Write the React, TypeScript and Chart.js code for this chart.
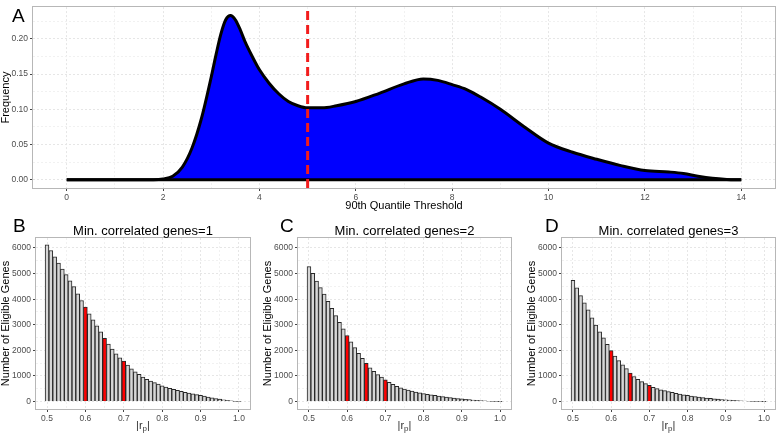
import React, { useEffect, useRef } from 'react';
import { Chart, registerables } from 'chart.js';

Chart.register(...registerables);

const FONT = '"Liberation Sans", Arial, Helvetica, sans-serif';

// ---------- Panel A: density of 90th quantile threshold ----------
const densityX = [0, 1, 1.8, 2.0, 2.2, 2.4, 2.6, 2.8, 3.0, 3.1, 3.2, 3.3, 3.4, 3.5, 3.6, 3.7, 3.85, 4.0, 4.2, 4.4, 4.6, 4.8, 5.0, 5.3, 5.6, 6.0, 6.5, 7.0, 7.4, 7.7, 8.0, 8.3, 8.6, 9.0, 9.5, 10.0, 10.5, 11.0, 11.5, 12.0, 12.5, 12.8, 13.1, 13.4, 13.7, 14];
const densityY = [0, 0, 0, 0.001, 0.005, 0.018, 0.045, 0.088, 0.146, 0.178, 0.207, 0.227, 0.233, 0.227, 0.213, 0.196, 0.175, 0.156, 0.137, 0.122, 0.111, 0.105, 0.102, 0.102, 0.105, 0.111, 0.123, 0.136, 0.143, 0.141, 0.135, 0.128, 0.117, 0.1, 0.075, 0.052, 0.039, 0.029, 0.02, 0.013, 0.011, 0.009, 0.005, 0.002, 0.0005, 0];
const thresholdX = 5;
const aTicksX = [0, 2, 4, 6, 8, 10, 12, 14];
const aMinorX = [1, 3, 5, 7, 9, 11, 13];
const aTicksY = [0, 0.05, 0.1, 0.15, 0.2];
const aMinorY = [0.025, 0.075, 0.125, 0.175, 0.225];
const aRangeX = [-0.7, 14.7];
const aRangeY = [-0.0117, 0.245];

// ---------- Panels B-D: eligible genes vs |r_p| ----------
const rBins = [0.5, 0.51, 0.52, 0.53, 0.54, 0.55, 0.56, 0.57, 0.58, 0.59, 0.6, 0.61, 0.62, 0.63, 0.64, 0.65, 0.66, 0.67, 0.68, 0.69, 0.7, 0.71, 0.72, 0.73, 0.74, 0.75, 0.76, 0.77, 0.78, 0.79, 0.8, 0.81, 0.82, 0.83, 0.84, 0.85, 0.86, 0.87, 0.88, 0.89, 0.9, 0.91, 0.92, 0.93, 0.94, 0.95, 0.96, 0.97, 0.98, 0.99, 1.0];
const countsMin1 = [6120, 5900, 5650, 5410, 5180, 4960, 4720, 4490, 4210, 3950, 3690, 3430, 3190, 2960, 2720, 2470, 2250, 2050, 1870, 1710, 1580, 1430, 1280, 1160, 1060, 960, 870, 800, 740, 680, 620, 570, 520, 480, 440, 400, 360, 330, 300, 270, 240, 210, 180, 150, 120, 95, 70, 45, 25, 10, 3];
const countsMin2 = [5270, 5010, 4710, 4450, 4200, 3920, 3640, 3360, 3100, 2840, 2580, 2330, 2110, 1880, 1690, 1490, 1320, 1180, 1050, 960, 850, 750, 670, 600, 540, 490, 450, 410, 370, 340, 310, 285, 260, 240, 215, 195, 175, 155, 140, 120, 105, 90, 75, 60, 48, 35, 25, 15, 8, 3, 1];
const countsMin3 = [4740, 4440, 4140, 3860, 3580, 3270, 2990, 2720, 2490, 2240, 1990, 1780, 1600, 1440, 1290, 1110, 980, 870, 780, 700, 630, 560, 505, 455, 425, 395, 360, 325, 295, 265, 240, 215, 195, 175, 155, 140, 125, 110, 95, 82, 70, 58, 48, 38, 30, 22, 15, 10, 5, 2, 1];
const highlightBins = [0.6, 0.65, 0.7];
const barTicksX = [0.5, 0.6, 0.7, 0.8, 0.9, 1.0];
const barMinorX = [0.55, 0.65, 0.75, 0.85, 0.95];
const barTicksY = [0, 1000, 2000, 3000, 4000, 5000, 6000];
const barMinorY = [500, 1500, 2500, 3500, 4500, 5500];
const barRangeX = [0.4713, 1.0287];
const barRangeY = [-290, 6390];
const panelLetters = ['B', 'C', 'D'];
const panelTitles = ['Min. correlated genes=1', 'Min. correlated genes=2', 'Min. correlated genes=3'];

type Box = { l: number; t: number; r: number; b: number };
type Deco = {
  letter: string;
  letterX: number;
  letterY: number;
  title?: string;
  titleY?: number;
  xTitle: string;
  xTitleY: number;
  xSub?: boolean;
  yTitle: string;
  yTitleX: number;
};

const GRID_MAJOR = '#e6e6e6';
const GRID_MINOR = '#f1f1f1';

function isIn(list: number[], v: number) {
  return list.some((x) => Math.abs(x - v) < 1e-9);
}

function decoPlugin(d: Deco) {
  return {
    id: 'deco',
    afterDraw(chart: any) {
      const ctx = chart.ctx as CanvasRenderingContext2D;
      const a = chart.chartArea;
      ctx.save();
      ctx.strokeStyle = '#b7b7b7';
      ctx.lineWidth = 1;
      ctx.strokeRect(Math.round(a.left) - 0.5, Math.round(a.top) - 0.5, Math.round(a.right - a.left) + 1, Math.round(a.bottom - a.top) + 1);
      ctx.fillStyle = '#000';
      ctx.font = `19px ${FONT}`;
      ctx.textAlign = 'left';
      ctx.textBaseline = 'alphabetic';
      ctx.fillText(d.letter, d.letterX, d.letterY);
      const cx = (a.left + a.right) / 2;
      const cy = (a.top + a.bottom) / 2;
      if (d.title) {
        ctx.font = `13px ${FONT}`;
        ctx.textAlign = 'center';
        ctx.textBaseline = 'middle';
        ctx.fillText(d.title, cx, d.titleY as number);
      }
      ctx.textBaseline = 'middle';
      if (d.xSub) {
        ctx.font = `11px ${FONT}`;
        const w1 = ctx.measureText('|r').width;
        const w3 = ctx.measureText('|').width;
        ctx.font = `8px ${FONT}`;
        const w2 = ctx.measureText('p').width;
        const x0 = cx - (w1 + w2 + w3) / 2;
        ctx.textAlign = 'left';
        ctx.fillStyle = '#333';
        ctx.font = `11px ${FONT}`;
        ctx.fillText('|r', x0, d.xTitleY);
        ctx.font = `8px ${FONT}`;
        ctx.fillText('p', x0 + w1, d.xTitleY + 3);
        ctx.font = `11px ${FONT}`;
        ctx.fillText('|', x0 + w1 + w2, d.xTitleY);
        ctx.fillStyle = '#000';
      } else {
        ctx.font = `11px ${FONT}`;
        ctx.textAlign = 'center';
        ctx.fillText(d.xTitle, cx, d.xTitleY);
      }
      ctx.translate(d.yTitleX, cy);
      ctx.rotate(-Math.PI / 2);
      ctx.font = `11px ${FONT}`;
      ctx.textAlign = 'center';
      ctx.textBaseline = 'middle';
      ctx.fillText(d.yTitle, 0, 0);
      ctx.restore();
    },
  };
}

function axisOptions(
  major: number[],
  minor: number[],
  range: number[],
  fmt: (v: number) => string,
  fit: (s: any) => void
) {
  const all = [...major, ...minor].sort((p, q) => p - q);
  return {
    type: 'linear',
    min: range[0],
    max: range[1],
    offset: false,
    afterBuildTicks: (s: any) => {
      s.ticks = all.map((v) => ({ value: v }));
    },
    afterFit: fit,
    border: { display: false, dash: [2, 2] },
    grid: {
      offset: false,
      drawTicks: true,
      tickLength: 3,
      lineWidth: 1,
      color: (c: any) => (isIn(major, c.tick?.value) ? GRID_MAJOR : GRID_MINOR),
      tickColor: (c: any) => (isIn(major, c.tick?.value) ? '#444' : 'rgba(0,0,0,0)'),
    },
    ticks: {
      autoSkip: false,
      maxRotation: 0,
      minRotation: 0,
      padding: 2,
      color: '#4d4d4d',
      font: { family: FONT, size: 8.5 },
      callback: (v: any) => (isIn(major, Number(v)) ? fmt(Number(v)) : ''),
    },
  };
}

function DensityPanel() {
  const ref = useRef<HTMLCanvasElement>(null);
  useEffect(() => {
    const W = 778;
    const H = 212;
    const area: Box = { l: 33, t: 2, r: 775, b: 188 };
    const chart = new Chart(ref.current as HTMLCanvasElement, {
      type: 'line',
      data: {
        datasets: [
          {
            data: [
              { x: thresholdX, y: aRangeY[0] },
              { x: thresholdX, y: aRangeY[1] },
            ],
            borderColor: '#f21c1c',
            borderWidth: 3,
            borderDash: [9, 5],
            pointRadius: 0,
            fill: false,
          },
          {
            data: [
              { x: densityX[0], y: 0 },
              { x: densityX[densityX.length - 1], y: 0 },
            ],
            borderColor: '#000',
            borderWidth: 3,
            pointRadius: 0,
            fill: false,
          },
          {
            data: densityX.map((x, i) => ({ x, y: densityY[i] })),
            borderColor: '#000',
            borderWidth: 3,
            backgroundColor: '#0000ff',
            fill: 'origin',
            pointRadius: 0,
            cubicInterpolationMode: 'monotone',
          },
        ],
      } as any,
      options: {
        animation: false,
        responsive: false,
        devicePixelRatio: 1,
        layout: { padding: { top: area.t, right: W - area.r, left: 0, bottom: 0 } },
        plugins: { legend: { display: false }, tooltip: { enabled: false } },
        scales: {
          x: axisOptions(aTicksX, aMinorX, aRangeX, (v) => String(v), (s: any) => {
            s.height = H - area.b;
          }),
          y: axisOptions(aTicksY, aMinorY, aRangeY, (v) => v.toFixed(2), (s: any) => {
            s.width = area.l;
          }),
        } as any,
      },
      plugins: [
        decoPlugin({
          letter: 'A',
          letterX: 12,
          letterY: 22,
          xTitle: '90th Quantile Threshold',
          xTitleY: 206,
          yTitle: 'Frequency',
          yTitleX: 6,
        }),
      ],
    });
    return () => chart.destroy();
  }, []);
  return (
    <canvas
      ref={ref}
      width={778}
      height={212}
      style={{ position: 'absolute', left: 0, top: 0, width: 778, height: 212 }}
    />
  );
}

type BarProps = {
  idx: number;
  counts: number[];
  canvasLeft: number;
  canvasWidth: number;
  panelLeft: number;
  panelRight: number;
  letterX: number;
};

function BarPanel(p: BarProps) {
  const ref = useRef<HTMLCanvasElement>(null);
  useEffect(() => {
    const W = p.canvasWidth;
    const H = 222;
    const top = 212;
    const area: Box = { l: p.panelLeft - p.canvasLeft, t: 238 - top, r: p.panelRight - p.canvasLeft, b: 409 - top };
    const chart = new Chart(ref.current as HTMLCanvasElement, {
      type: 'bar',
      data: {
        datasets: [
          {
            data: rBins.map((x, i) => ({ x, y: p.counts[i] })),
            backgroundColor: (c: any) => (isIn(highlightBins, rBins[c.dataIndex]) ? '#ff0000' : '#d6d6d6'),
            borderColor: '#262626',
            borderWidth: 1,
            barPercentage: 1,
            categoryPercentage: 1,
          },
        ],
      } as any,
      options: {
        animation: false,
        responsive: false,
        devicePixelRatio: 1,
        layout: { padding: { top: area.t, right: W - area.r, left: 0, bottom: 0 } },
        plugins: { legend: { display: false }, tooltip: { enabled: false } },
        scales: {
          x: axisOptions(barTicksX, barMinorX, barRangeX, (v) => v.toFixed(1), (s: any) => {
            s.height = H - area.b;
          }),
          y: axisOptions(barTicksY, barMinorY, barRangeY, (v) => String(v), (s: any) => {
            s.width = area.l;
          }),
        } as any,
      },
      plugins: [
        decoPlugin({
          letter: panelLetters[p.idx],
          letterX: p.letterX - p.canvasLeft,
          letterY: 232 - top,
          title: panelTitles[p.idx],
          titleY: 231 - top,
          xTitle: '|rp|',
          xTitleY: 426 - top,
          xSub: true,
          yTitle: 'Number of Eligible Genes',
          yTitleX: p.panelLeft - 30 - p.canvasLeft,
        }),
      ],
    });
    return () => chart.destroy();
  }, []);
  return (
    <canvas
      ref={ref}
      width={p.canvasWidth}
      height={222}
      style={{ position: 'absolute', left: p.canvasLeft, top: 212, width: p.canvasWidth, height: 222 }}
    />
  );
}

export default function App() {
  return (
    <div style={{ position: 'absolute', left: 0, top: 0, width: 778, height: 434, background: '#fff', overflow: 'hidden' }}>
      <DensityPanel />
      <BarPanel idx={0} counts={countsMin1} canvasLeft={0} canvasWidth={258} panelLeft={36} panelRight={250} letterX={13} />
      <BarPanel idx={1} counts={countsMin2} canvasLeft={258} canvasWidth={262} panelLeft={298} panelRight={511} letterX={280} />
      <BarPanel idx={2} counts={countsMin3} canvasLeft={520} canvasWidth={258} panelLeft={562} panelRight={775} letterX={545} />
    </div>
  );
}
